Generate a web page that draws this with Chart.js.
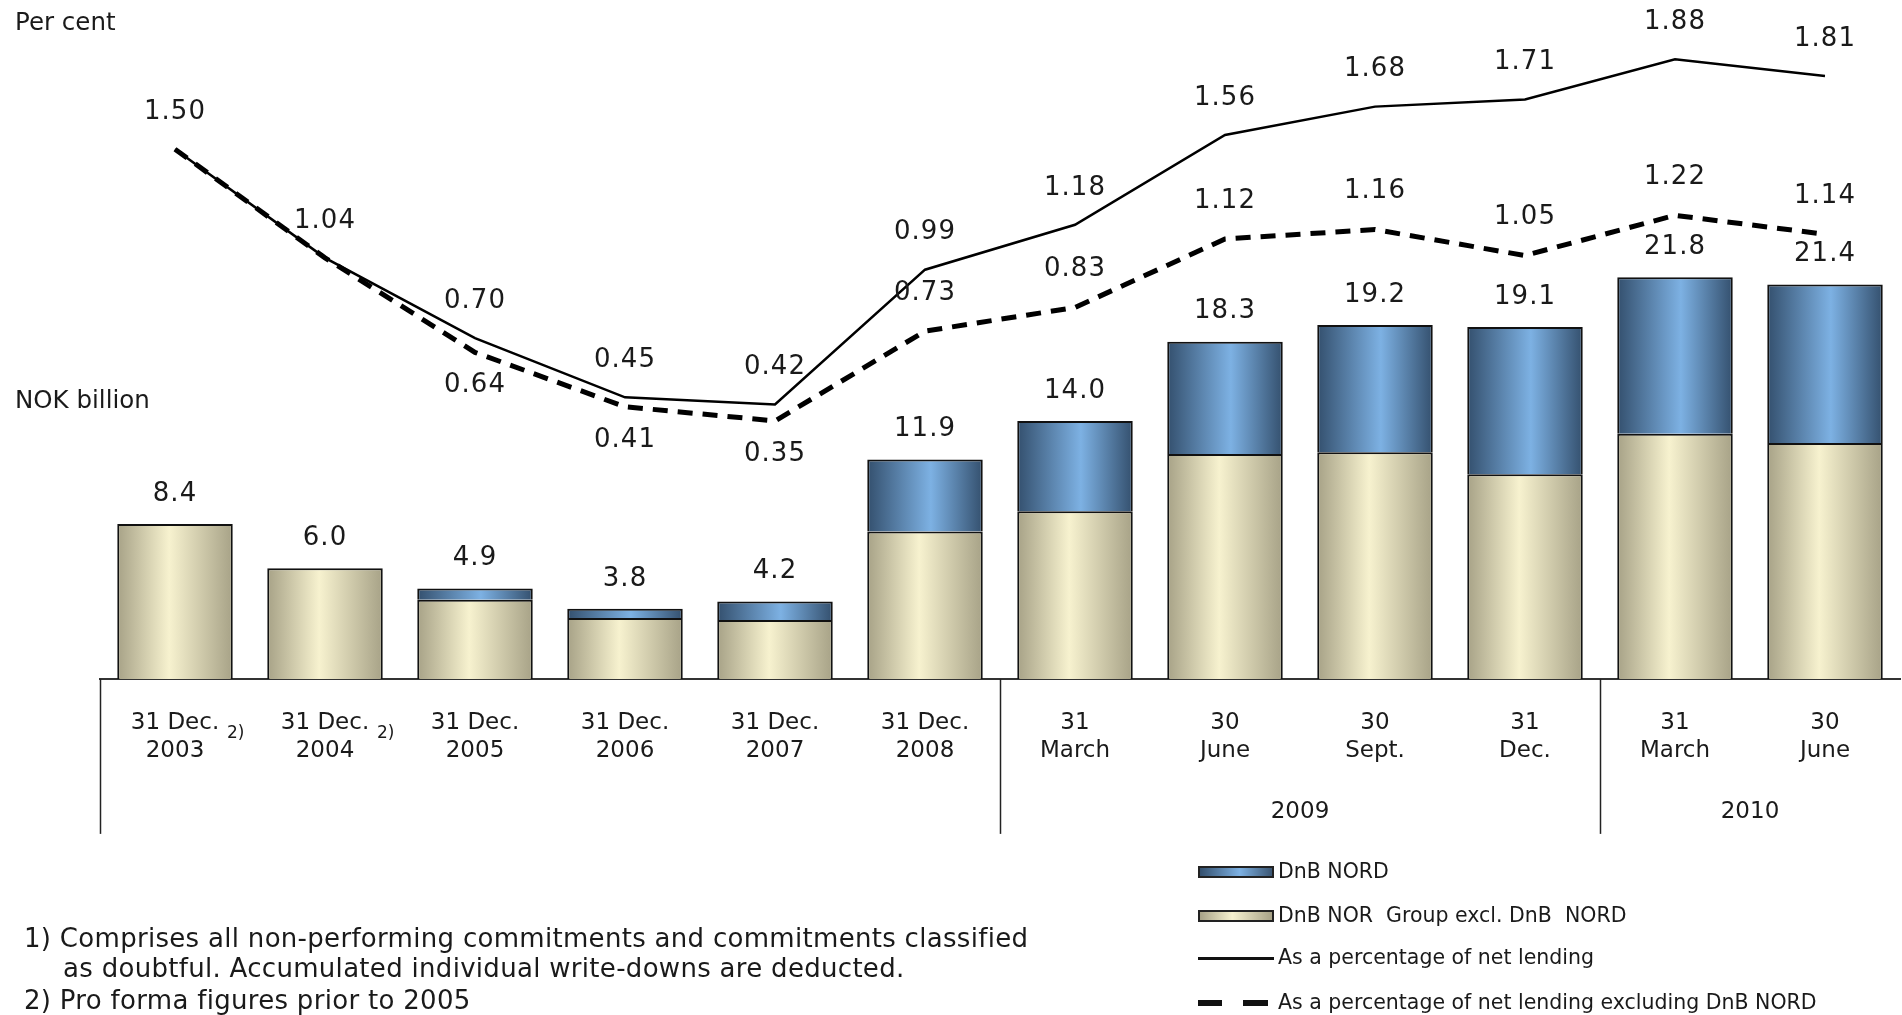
<!DOCTYPE html>
<html>
<head>
<meta charset="utf-8">
<script src="https://cdn.jsdelivr.net/npm/chart.js@4.4.1/dist/chart.umd.min.js"></script>
<style>
    html, body { margin: 0; padding: 0; background: #fff; }
    body { width: 1902px; height: 1015px; position: relative; overflow: hidden; font-family: "DejaVu Sans", sans-serif; color: #1a1a1a; }
    #chart { position: absolute; left: 0; top: 0; }
    .unit { position: absolute; left: 15px; font-size: 24.5px; }
    .note { position: absolute; left: 24px; font-size: 26px; letter-spacing: 0.3px; white-space: nowrap; }
    .legend { position: absolute; left: 1198px; font-size: 20.5px; white-space: nowrap; }
    .legend span.sw { display: inline-block; width: 76px; vertical-align: middle; margin-right: 4px; box-sizing: border-box; }
    .legend .bar { height: 12px; border: 2px solid #222; }
    .legend .nord { background: linear-gradient(90deg, #34506e, #7db1e3 55%, #3b5673); }
    .legend .group { background: linear-gradient(90deg, #a7a287, #f7f2cf 45%, #a7a287); }
    .legend .solid { height: 3px; background: #111; }
    .legend .dash { height: 6px; background: linear-gradient(90deg, #111 0 24px, transparent 24px 45px, #111 45px 70px, transparent 70px); }
</style>
</head>
<body>
<canvas id="chart" width="1902" height="1015"></canvas>
<div class="unit" style="top:7px">Per cent</div>
<div class="unit" style="top:385px">NOK billion</div>

<div class="note" style="top:923px">1) Comprises all non-performing commitments and commitments classified</div>
<div class="note" style="top:953px; left:63px">as doubtful. Accumulated individual write-downs are deducted.</div>
<div class="note" style="top:985px">2) Pro forma figures prior to 2005</div>

<div class="legend" style="top:859px"><span class="sw bar nord"></span>DnB NORD</div>
<div class="legend" style="top:903px"><span class="sw bar group"></span>DnB NOR&nbsp; Group excl. DnB&nbsp; NORD</div>
<div class="legend" style="top:945px"><span class="sw solid"></span>As a percentage of net lending</div>
<div class="legend" style="top:990px"><span class="sw dash"></span>As a percentage of net lending excluding DnB NORD</div>

<script>
const categories = [
    ['31 Dec.', '2003'], ['31 Dec.', '2004'], ['31 Dec.', '2005'], ['31 Dec.', '2006'],
    ['31 Dec.', '2007'], ['31 Dec.', '2008'], ['31', 'March'], ['30', 'June'],
    ['30', 'Sept.'], ['31', 'Dec.'], ['31', 'March'], ['30', 'June'],
];
const groupExclNord = [8.4, 6.0, 4.3, 3.3, 3.2, 8.0, 9.1, 12.2, 12.3, 11.1, 13.3, 12.8];
const dnbNord = [0, 0, 0.6, 0.5, 1.0, 3.9, 4.9, 6.1, 6.9, 8.0, 8.5, 8.6];
const totals = [8.4, 6.0, 4.9, 3.8, 4.2, 11.9, 14.0, 18.3, 19.2, 19.1, 21.8, 21.4];
const pctNetLending = [1.50, 1.04, 0.70, 0.45, 0.42, 0.99, 1.18, 1.56, 1.68, 1.71, 1.88, 1.81];
const pctExNord = [1.50, 1.04, 0.64, 0.41, 0.35, 0.73, 0.83, 1.12, 1.16, 1.05, 1.22, 1.14];
const years = [
    { label: '2009', from: 6, to: 9 },
    { label: '2010', from: 10, to: 11 },
];
const proForma = [0, 1];

const BAR_PCT = 0.77;
const TEXT = '#1a1a1a';

function cylinder(edge, mid, stop) {
    return (c) => {
        const chart = c.chart;
        if (! chart.chartArea) {
            return mid;
        }
        const xs = chart.scales.x;
        const cx = xs.getPixelForValue(c.dataIndex);
        const half = xs.width / categories.length * BAR_PCT / 2;
        const g = chart.ctx.createLinearGradient(cx - half, 0, cx + half, 0);
        g.addColorStop(0, edge);
        g.addColorStop(stop, mid);
        g.addColorStop(1, edge);
        return g;
    };
}

const overlay = {
    id: 'overlay',
    afterDatasetsDraw(chart) {
        const ctx = chart.ctx;
        const xs = chart.scales.x;
        const area = chart.chartArea;
        ctx.save();
        ctx.fillStyle = TEXT;
        ctx.textAlign = 'center';
        ctx.textBaseline = 'middle';
        ctx.font = '26px "DejaVu Sans"';
        ctx.letterSpacing = '1px';

        const stackTop = chart.getDatasetMeta(1).data;
        totals.forEach((v, i) => {
            ctx.fillText(v.toFixed(1), stackTop[i].x, stackTop[i].y - 30);
        });

        const solid = chart.getDatasetMeta(2).data;
        pctNetLending.forEach((v, i) => {
            ctx.fillText(v.toFixed(2), solid[i].x, solid[i].y - 37);
        });

        const dashed = chart.getDatasetMeta(3).data;
        pctExNord.forEach((v, i) => {
            if (Math.abs(v - pctNetLending[i]) < 0.01) {
                return;
            }
            const below = i >= 2 && i <= 4;
            ctx.fillText(v.toFixed(2), dashed[i].x, dashed[i].y + (below ? 33 : -38));
        });
        ctx.letterSpacing = '0px';

        // category table under the axis
        ctx.strokeStyle = '#222';
        ctx.lineWidth = 1.5;
        const bottom = area.bottom + 155;
        const seps = [area.left];
        years.forEach((y) => {
            seps.push((xs.getPixelForValue(y.from - 1) + xs.getPixelForValue(y.from)) / 2);
        });
        seps.forEach((x) => {
            ctx.beginPath();
            ctx.moveTo(Math.round(x) + 0.5, area.bottom);
            ctx.lineTo(Math.round(x) + 0.5, bottom);
            ctx.stroke();
        });

        ctx.font = '23px "DejaVu Sans"';
        years.forEach((y) => {
            const x = (xs.getPixelForValue(y.from) + xs.getPixelForValue(y.to)) / 2;
            ctx.fillText(y.label, x, area.bottom + 133);
        });

        ctx.font = '17px "DejaVu Sans"';
        ctx.textAlign = 'left';
        proForma.forEach((i) => {
            ctx.fillText('2)', xs.getPixelForValue(i) + 52, area.bottom + 55);
        });
        ctx.restore();
    },
};

new Chart(document.getElementById('chart'), {
    type: 'bar',
    data: {
        labels: categories,
        datasets: [
            {
                label: 'DnB NOR Group excl. DnB NORD',
                data: groupExclNord,
                backgroundColor: cylinder('#a7a287', '#f7f2cf', 0.45),
                borderColor: '#111',
                borderWidth: 2,
                stack: 'nok',
                order: 2,
            },
            {
                label: 'DnB NORD',
                data: dnbNord,
                backgroundColor: cylinder('#34506e', '#7db1e3', 0.55),
                borderColor: '#111',
                borderWidth: 2,
                stack: 'nok',
                order: 2,
            },
            {
                type: 'line',
                label: 'As a percentage of net lending',
                data: pctNetLending,
                yAxisID: 'y1',
                borderColor: '#000',
                borderWidth: 2.5,
                pointRadius: 0,
                tension: 0,
                order: 0,
            },
            {
                type: 'line',
                label: 'As a percentage of net lending excluding DnB NORD',
                data: pctExNord,
                yAxisID: 'y1',
                borderColor: '#000',
                borderWidth: 5,
                borderDash: [15, 10],
                pointRadius: 0,
                tension: 0,
                order: 1,
            },
        ],
    },
    options: {
        responsive: false,
        animation: false,
        layout: { padding: { top: 34, left: 100, right: 2, bottom: 220 } },
        plugins: { legend: { display: false }, tooltip: { enabled: false } },
        datasets: { bar: { barPercentage: BAR_PCT, categoryPercentage: 1 } },
        scales: {
            x: {
                stacked: true,
                offset: true,
                grid: { display: false, drawTicks: false },
                border: { display: true, color: '#333', width: 2 },
                ticks: {
                    color: TEXT,
                    font: { family: 'DejaVu Sans', size: 23, lineHeight: 1.22 },
                    padding: 30,
                    autoSkip: false,
                    maxRotation: 0,
                },
            },
            y: {
                stacked: true,
                display: false,
                min: 0,
                max: 35,
            },
            y1: {
                display: false,
                min: -0.7415,
                max: 1.9873,
            },
        },
    },
    plugins: [overlay],
});
</script>
</body>
</html>
